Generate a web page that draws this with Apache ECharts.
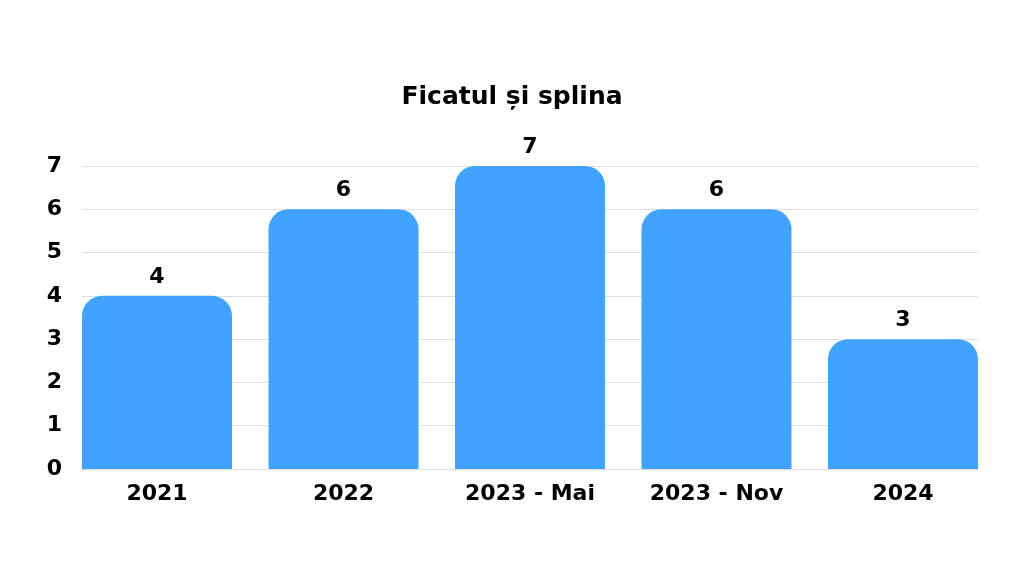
<!DOCTYPE html>
<html>
<head>
<meta charset="utf-8">
<script src="https://cdn.jsdelivr.net/npm/echarts@6/dist/echarts.min.js"></script>
<style>
  html, body { margin: 0; padding: 0; background: #fff; }
  #chart { width: 1024px; height: 576px; }
</style>
</head>
<body>
<div id="chart"></div>
<script>
const categories = ['2021', '2022', '2023 - Mai', '2023 - Nov', '2024'];
const values = [4, 6, 7, 6, 3];
const yTicks = [0, 1, 2, 3, 4, 5, 6, 7];

const font = 'DejaVu Sans';
const chart = echarts.init(document.getElementById('chart'));

// grid 0 draws the gridlines and y labels, grid 1 (a bit wider) carries the bars
// so the outer bars sit flush with the gridline ends, as in the original
const barW = 150;
const gap = 36.5;
const plotL = 82, plotR = 46;

chart.setOption({
    animation: false,
    title: {
        text: 'Ficatul și splina',
        left: 'center',
        top: 80,
        textStyle: { fontFamily: font, fontWeight: 'bold', fontSize: 25, color: '#000' }
    },
    grid: [
        { left: plotL, right: plotR, top: 166, bottom: 107 },
        { left: plotL - gap / 2, right: plotR - gap / 2, top: 166, bottom: 107 }
    ],
    xAxis: [{
        type: 'category',
        gridIndex: 0,
        data: categories,
        axisLine: { show: true, lineStyle: { color: '#dddddd', width: 1 } },
        axisTick: { show: false },
        axisLabel: { show: false }
    }, {
        type: 'category',
        gridIndex: 1,
        data: categories,
        axisLine: { show: false },
        axisTick: { show: false },
        axisLabel: { fontFamily: font, fontWeight: 'bold', fontSize: 22, color: '#000', margin: 14 }
    }],
    yAxis: [{
        type: 'value',
        gridIndex: 0,
        min: yTicks[0],
        max: yTicks[yTicks.length - 1],
        interval: 1,
        axisLine: { show: false },
        axisTick: { show: false },
        splitLine: { lineStyle: { color: '#dddddd', width: 1 } },
        axisLabel: { fontFamily: font, fontWeight: 'bold', fontSize: 22, color: '#000', margin: 20 }
    }, {
        type: 'value',
        gridIndex: 1,
        min: yTicks[0],
        max: yTicks[yTicks.length - 1],
        interval: 1,
        show: false,
        splitLine: { show: false }
    }],
    series: [{
        type: 'bar',
        xAxisIndex: 1,
        yAxisIndex: 1,
        data: values,
        barWidth: barW,
        itemStyle: { color: '#3FA3FF', borderRadius: [20, 20, 0, 0] },
        label: {
            show: true,
            position: 'top',
            distance: 8,
            fontFamily: font,
            fontWeight: 'bold',
            fontSize: 22,
            color: '#000'
        }
    }]
});
</script>
</body>
</html>
